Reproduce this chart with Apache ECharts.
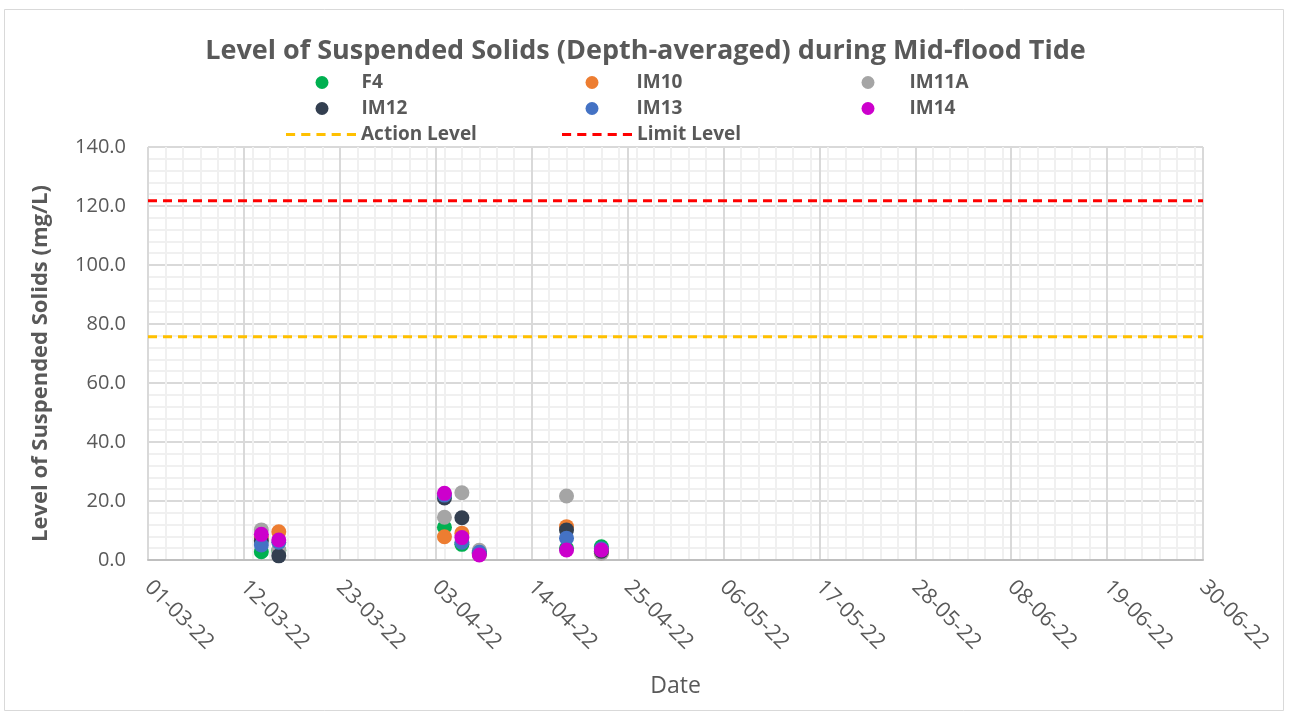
<!DOCTYPE html>
<html>
<head>
<meta charset="utf-8">
<script src="https://cdn.jsdelivr.net/npm/echarts@6/dist/echarts.min.js"></script>
<style>
html,body{margin:0;padding:0;background:#fff;}
#chart{width:1291px;height:717px;}
</style>
</head>
<body>
<div id="chart"></div>
<script>
// ---- Data ----
const sampleDates = ['14-03-22','16-03-22','04-04-22','06-04-22','08-04-22','18-04-22','22-04-22'];
const F4    = [2.8, 3.2, 11.1, 5.3, 2.8, 4.0, 4.5];
const IM10  = [7.8, 9.6, 7.9, 9.1, 2.0, 11.3, 2.5];
const IM11A = [10.2, 3.4, 14.5, 22.8, 3.3, 21.7, 2.3];
const IM12  = [6.5, 1.4, 21.0, 14.3, 2.2, 10.2, 3.0];
const IM13  = [5.1, 6.0, 22.0, 6.0, 2.6, 7.4, 3.8];
const IM14  = [8.7, 6.8, 22.6, 7.6, 1.7, 3.4, 3.4];
const levelDates = ['01-03-22','30-06-22'];
const actionLevel = [75.7, 75.7];
const limitLevel  = [121.8, 121.8];
const axisStart = '01-03-22';
const axisEnd = '30-06-22';
const xTickDays = 11;
const xMinorDays = 2;
const yTicks = ['0.0','20.0','40.0','60.0','80.0','100.0','120.0','140.0'];

// ---- helpers ----
function parseD(s){const p=s.split('-');return Date.UTC(2000+ +p[2], +p[1]-1, +p[0]);}
const DAY=86400000;
const t0=parseD(axisStart);
function dayIdx(s){return Math.round((parseD(s)-t0)/DAY);}
function fmt(d){const dt=new Date(t0+d*DAY);const dd=String(dt.getUTCDate()).padStart(2,'0');const mm=String(dt.getUTCMonth()+1).padStart(2,'0');const yy=String(dt.getUTCFullYear()%100).padStart(2,'0');return dd+'-'+mm+'-'+yy;}
const xMax=dayIdx(axisEnd);
const yMax=parseFloat(yTicks[yTicks.length-1]);
const yInt=parseFloat(yTicks[1])-parseFloat(yTicks[0]);

const txt='#595959';
const font='"Open Sans", sans-serif';
function pts(vals,dates){return vals.map((v,i)=>[dayIdx(dates[i]),v]);}

const seriesDefs=[
 {name:'F4',data:F4,color:'#00B050'},
 {name:'IM10',data:IM10,color:'#ED7D31'},
 {name:'IM11A',data:IM11A,color:'#A5A5A5'},
 {name:'IM12',data:IM12,color:'#333F50'},
 {name:'IM13',data:IM13,color:'#4472C4'},
 {name:'IM14',data:IM14,color:'#CC00CC'}
];
const series=seriesDefs.map(s=>({
  name:s.name,type:'scatter',xAxisIndex:1,yAxisIndex:0,
  data:pts(s.data,sampleDates),symbol:'circle',symbolSize:15,
  itemStyle:{color:s.color,opacity:1},z:3
}));
series.push({name:'Action Level',type:'line',xAxisIndex:1,data:pts(actionLevel,levelDates),symbol:'none',
  lineStyle:{color:'#FFC000',width:3,type:[9,6]},itemStyle:{color:'#FFC000'},z:2,silent:true});
series.push({name:'Limit Level',type:'line',xAxisIndex:1,data:pts(limitLevel,levelDates),symbol:'none',
  lineStyle:{color:'#FF0000',width:3,type:[9,6]},itemStyle:{color:'#FF0000'},z:2,silent:true});

const dashIcon='path://M0,0h9v3h-9zM15,0h9v3h-9zM30,0h9v3h-9zM45,0h9v3h-9zM60,0h9v3h-9z';
// [left, top, spacer before text]
const legendPos={
 'F4':[315.5,73,28],'IM10':[585.5,73,33],'IM11A':[861.5,73,30],
 'IM12':[315.5,99,28],'IM13':[585.5,99,33],'IM14':[861.5,99,30],
 'Action Level':[286,125,0],'Limit Level':[562,125,0]
};
const legends=Object.keys(legendPos).map(n=>{
  const isLine=n.indexOf('Level')>=0;
  const p=legendPos[n];
  return {
    data:[n],left:p[0],top:p[1],orient:'horizontal',
    itemWidth:isLine?70:13,itemHeight:isLine?3:13,symbolKeepAspect:!isLine,
    icon:isLine?dashIcon:'circle',padding:0,
    formatter:nm=>'{g|}{t|'+nm+'}',
    textStyle:{color:txt,fontFamily:font,fontSize:19,fontWeight:'bold',
      rich:{g:{width:p[2]},t:{color:txt,fontFamily:font,fontSize:19,fontWeight:'bold'}}},
    selectedMode:false
  };
});

const chart=echarts.init(document.getElementById('chart'),null,{renderer:'canvas'});
chart.setOption({
  animation:false,
  backgroundColor:'#fff',
  title:{text:'Level of Suspended Solids (Depth-averaged) during Mid-flood Tide',left:'center',top:33,
    textStyle:{color:txt,fontFamily:font,fontSize:27,fontWeight:'bold'}},
  legend:legends,
  grid:{left:148,right:88,top:147,bottom:157,containLabel:false},
  graphic:[{type:'rect',shape:{x:4.5,y:9.5,width:1279,height:701},style:{fill:'none',stroke:'#D9D9D9',lineWidth:1},silent:true,z:-1}],
  xAxis:[
    {type:'value',min:0,max:xMax,interval:xMinorDays,position:'bottom',
     axisLine:{show:false},axisTick:{show:false},axisLabel:{show:false},
     splitLine:{show:true,lineStyle:{color:'#F0F0F0',width:2}}},
    {type:'value',min:0,max:xMax,interval:xTickDays,position:'bottom',
     name:'Date',nameLocation:'middle',nameGap:115,
     nameTextStyle:{color:txt,fontFamily:font,fontSize:23},
     axisLine:{show:true,lineStyle:{color:'#BFBFBF',width:2}},axisTick:{show:false},
     axisLabel:{rotate:-45,margin:24,color:txt,fontFamily:font,fontSize:21.5,formatter:v=>fmt(v)},
     splitLine:{show:true,lineStyle:{color:'#D9D9D9',width:2}}}
  ],
  yAxis:[{type:'value',min:0,max:yMax,interval:yInt,
    name:'Level of Suspended Solids (mg/L)',nameLocation:'middle',nameGap:96,
    nameTextStyle:{color:txt,fontFamily:font,fontSize:22,fontWeight:'bold',padding:[0,20,0,0]},
    axisLine:{show:false},axisTick:{show:false},
    axisLabel:{margin:22,color:txt,fontFamily:font,fontSize:20,formatter:v=>v.toFixed(1)},
    splitLine:{show:true,lineStyle:{color:'#D9D9D9',width:2}},
    minorTick:{show:false,splitNumber:5},
    minorSplitLine:{show:true,lineStyle:{color:'#F0F0F0',width:2}}
  }],
  series:series
});
</script>
</body>
</html>
